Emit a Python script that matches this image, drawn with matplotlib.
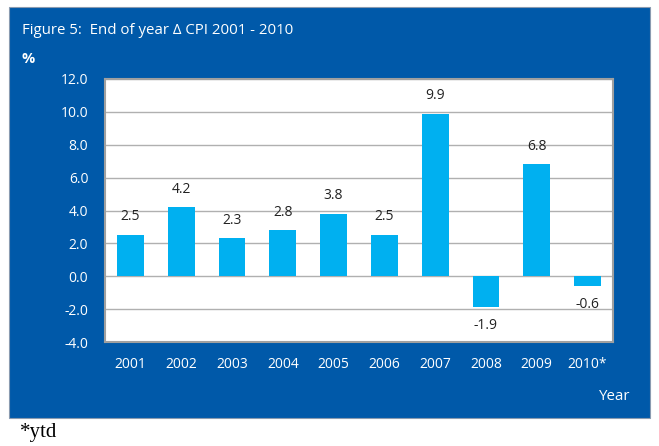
import matplotlib.pyplot as plt
from matplotlib.patches import Rectangle

years = ["2001", "2002", "2003", "2004", "2005", "2006", "2007", "2008", "2009", "2010*"]
cpi = [2.5, 4.2, 2.3, 2.8, 3.8, 2.5, 9.9, -1.9, 6.8, -0.6]
labels = ["2.5", "4.2", "2.3", "2.8", "3.8", "2.5", "9.9", "-1.9", "6.8", "-0.6"]

W, H = 659, 446
panel = "#0059A9"
bar_col = "#00B0F0"
plt.rcParams['font.family'] = ['Open Sans', 'DejaVu Sans']

fig = plt.figure(figsize=(W / 100, H / 100), dpi=100)
fig.patch.set_facecolor("white")

# blue panel behind everything
fig.patches.append(Rectangle((9 / W, 1 - 418 / H), 641 / W, 411 / H,
                             transform=fig.transFigure, facecolor=panel,
                             edgecolor="#8a9bb0", lw=0.8, zorder=-10))

ax = fig.add_axes([105 / W, 1 - 342 / H, (613 - 105) / W, (342 - 79) / H])
ax.set_facecolor("white")
x = range(len(years))
ax.bar(x, cpi, width=0.53, color=bar_col, zorder=3)
ax.set_ylim(-4, 12)
ax.set_xlim(-0.5, len(years) - 0.5)
ax.set_yticks([-4, -2, 0, 2, 4, 6, 8, 10, 12])
ax.set_yticklabels([f"{v:.1f}" for v in [-4, -2, 0, 2, 4, 6, 8, 10, 12]])
ax.set_xticks(list(x))
ax.set_xticklabels(years)
ax.tick_params(colors="white", labelsize=10, length=0, pad=11)
ax.tick_params(axis="y", pad=12)
ax.grid(axis="y", color="#b0b0b0", lw=1, zorder=0)
for s in ax.spines.values():
    s.set_color("#a0a0a0")
    s.set_linewidth(1.5)

for i, v in enumerate(cpi):
    if v >= 0:
        ax.text(i, v + 0.65, labels[i], ha="center", va="bottom", fontsize=10, color="#222222")
    else:
        ax.text(i, v - 0.65, labels[i], ha="center", va="top", fontsize=10, color="#222222")

fig.text(22 / W, 1 - 30 / H, "Figure 5:  End of year \u0394 CPI 2001 - 2010", color="white",
         fontsize=10.8, va="center", ha="left")
fig.text(22 / W, 1 - 59 / H, "%", color="white", fontsize=10.5, fontweight="bold",
         va="center", ha="left")
fig.text(615 / W, 1 - 396 / H, "Year", color="white", fontsize=10.8, va="center", ha="center")
fig.text(20 / W, 1 - 433 / H, "*ytd", fontsize=15, family="Liberation Serif",
         va="center", ha="left")

plt.savefig("out.png", dpi=100)
